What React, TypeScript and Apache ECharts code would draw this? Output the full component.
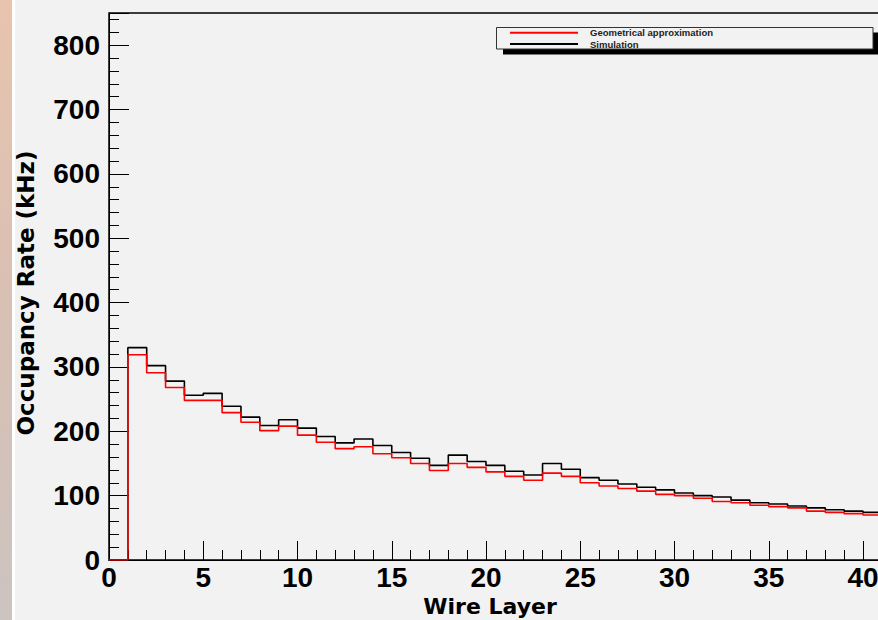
import React, { useEffect, useRef } from "react";
import * as echarts from "echarts";

// Bin lower edges (wire layer), bin width 1
const wireLayers = [
  0, 1, 2, 3, 4, 5, 6, 7, 8, 9, 10, 11, 12, 13, 14, 15, 16, 17, 18, 19, 20,
  21, 22, 23, 24, 25, 26, 27, 28, 29, 30, 31, 32, 33, 34, 35, 36, 37, 38, 39, 40,
];

// Occupancy rate (kHz), simulation (black)
const simulation = [
  0, 330, 302, 278, 256, 259, 239, 222, 209, 218, 205, 192, 182, 188, 178, 167,
  158, 147, 163, 153, 147, 138, 132, 150, 141, 128, 124, 118, 113, 109, 104,
  100, 98, 93, 89, 87, 84, 81, 78, 76, 74,
];

// Occupancy rate (kHz), geometrical approximation (red)
const geometrical = [
  0, 319, 291, 268, 248, 248, 229, 214, 201, 208, 194, 183, 173, 176, 165, 159,
  150, 139, 150, 144, 137, 130, 124, 135, 130, 120, 115, 111, 107, 102, 100, 96,
  91, 89, 85, 83, 81, 76, 74, 72, 70,
];

const seriesNames = ["Geometrical approximation", "Simulation"];
const xTitle = "Wire Layer";
const yTitle = "Occupancy Rate (kHz)";

const toSteps = (vals: number[]) => {
  const pts = vals.map((v, i) => [wireLayers[i], v]);
  const last = vals.length - 1;
  pts.push([wireLayers[last] + 1, vals[last]]);
  return pts;
};

const labelFont = {
  fontFamily: '"Liberation Sans", Arial, sans-serif',
  fontWeight: "bold" as const,
  fontSize: 28,
  color: "#000",
};

export default function App() {
  const ref = useRef<HTMLDivElement>(null);

  useEffect(() => {
    if (!ref.current) return;
    const chart = echarts.init(ref.current, undefined, { renderer: "svg" });
    const unit = 18.85;
    chart.setOption({
      animation: false,
      backgroundColor: "#f2f2f2",
      grid: {
        left: 109,
        top: 13,
        width: 45 * unit,
        height: 547,
        show: true,
        borderColor: "#000",
        borderWidth: 1.5,
        backgroundColor: "transparent",
        containLabel: false,
        outerBoundsMode: "none",
      },
      xAxis: {
        type: "value",
        min: 0,
        max: 45,
        interval: 5,
        axisLine: { show: true, lineStyle: { color: "#000", width: 1 } },
        axisTick: { show: true, inside: true, length: 19, lineStyle: { color: "#000", width: 1 } },
        minorTick: { show: true, splitNumber: 5, length: 10, lineStyle: { color: "#000", width: 1 } },
        splitLine: { show: false },
        minorSplitLine: { show: false },
        axisLabel: {
          ...labelFont,
          margin: 3,
          formatter: (v: number) => (v <= 40 ? String(v) : ""),
        },
      },
      yAxis: [
        {
          type: "value",
          min: 0,
          max: 850,
          interval: 20,
          position: "left",
          axisLine: { show: true, lineStyle: { color: "#000", width: 1 } },
          axisTick: { show: true, inside: true, length: 10, lineStyle: { color: "#000", width: 1 } },
          axisLabel: { show: false },
          splitLine: { show: false },
        },
        {
          type: "value",
          min: 0,
          max: 850,
          interval: 100,
          position: "left",
          axisLine: { show: false },
          axisTick: { show: true, inside: true, length: 20, lineStyle: { color: "#000", width: 1 } },
          axisLabel: {
            ...labelFont,
            margin: 9,
            formatter: (v: number) => (v % 100 === 0 ? String(v) : ""),
          },
          splitLine: { show: false },
        },
      ],
      legend: {
        orient: "vertical",
        left: 509,
        top: 27.7,
        itemWidth: 68,
        itemHeight: 10,
        itemGap: 1.3,
        padding: 0,
        data: seriesNames,
        itemStyle: { opacity: 0 },
        textStyle: {
          fontFamily: '"Liberation Sans", Arial, sans-serif',
          fontWeight: "bold",
          fontSize: 9.5,
          color: "#222",
          padding: [0, 0, 0, 7],
        },
        z: 10,
      },
      graphic: [
        {
          type: "rect",
          shape: { x: 0, y: 0, width: 12, height: 620 },
          style: {
            fill: new echarts.graphic.LinearGradient(0, 0, 0, 1, [
              { offset: 0, color: "#e8c4ae" },
              { offset: 0.5, color: "#d8c0b4" },
              { offset: 1, color: "#ccc4c0" },
            ]),
          },
          silent: true,
        },
        {
          type: "rect",
          shape: { x: 12, y: 0, width: 3, height: 620 },
          style: { fill: "#ffffff" },
          silent: true,
        },
        {
          type: "rect",
          shape: { x: 503, y: 32.5, width: 380, height: 22 },
          style: { fill: "#000" },
          z: 5,
          silent: true,
        },
        {
          type: "rect",
          shape: { x: 496.5, y: 27.5, width: 376.5, height: 21.5 },
          style: { fill: "#f2f2f2", stroke: "#333", lineWidth: 1 },
          z: 6,
          silent: true,
        },
        {
          type: "text",
          x: 26,
          y: 293,
          rotation: Math.PI / 2,
          style: {
            text: yTitle,
            fontFamily: '"DejaVu Sans", sans-serif',
            fontWeight: "bold",
            fontSize: 23,
            fill: "#000",
            align: "center",
            verticalAlign: "middle",
          },
          silent: true,
        },
        {
          type: "text",
          x: 490,
          y: 606,
          style: {
            text: xTitle,
            fontFamily: '"DejaVu Sans", sans-serif',
            fontWeight: "bold",
            fontSize: 22,
            fill: "#000",
            align: "center",
            verticalAlign: "middle",
          },
          silent: true,
        },
      ],
      series: [
        {
          name: seriesNames[1],
          type: "line",
          step: "end",
          xAxisIndex: 0,
          yAxisIndex: 0,
          symbol: "none",
          data: toSteps(simulation),
          lineStyle: { color: "#000", width: 1.6 },
          itemStyle: { color: "#000" },
        },
        {
          name: seriesNames[0],
          type: "line",
          step: "end",
          xAxisIndex: 0,
          yAxisIndex: 0,
          symbol: "none",
          data: toSteps(geometrical),
          lineStyle: { color: "#ff0000", width: 1.6 },
          itemStyle: { color: "#ff0000" },
        },
      ],
    });
    return () => chart.dispose();
  }, []);

  return (
    <div
      ref={ref}
      style={{ position: "fixed", left: 0, top: 0, width: 878, height: 620, background: "#f2f2f2" }}
    />
  );
}
